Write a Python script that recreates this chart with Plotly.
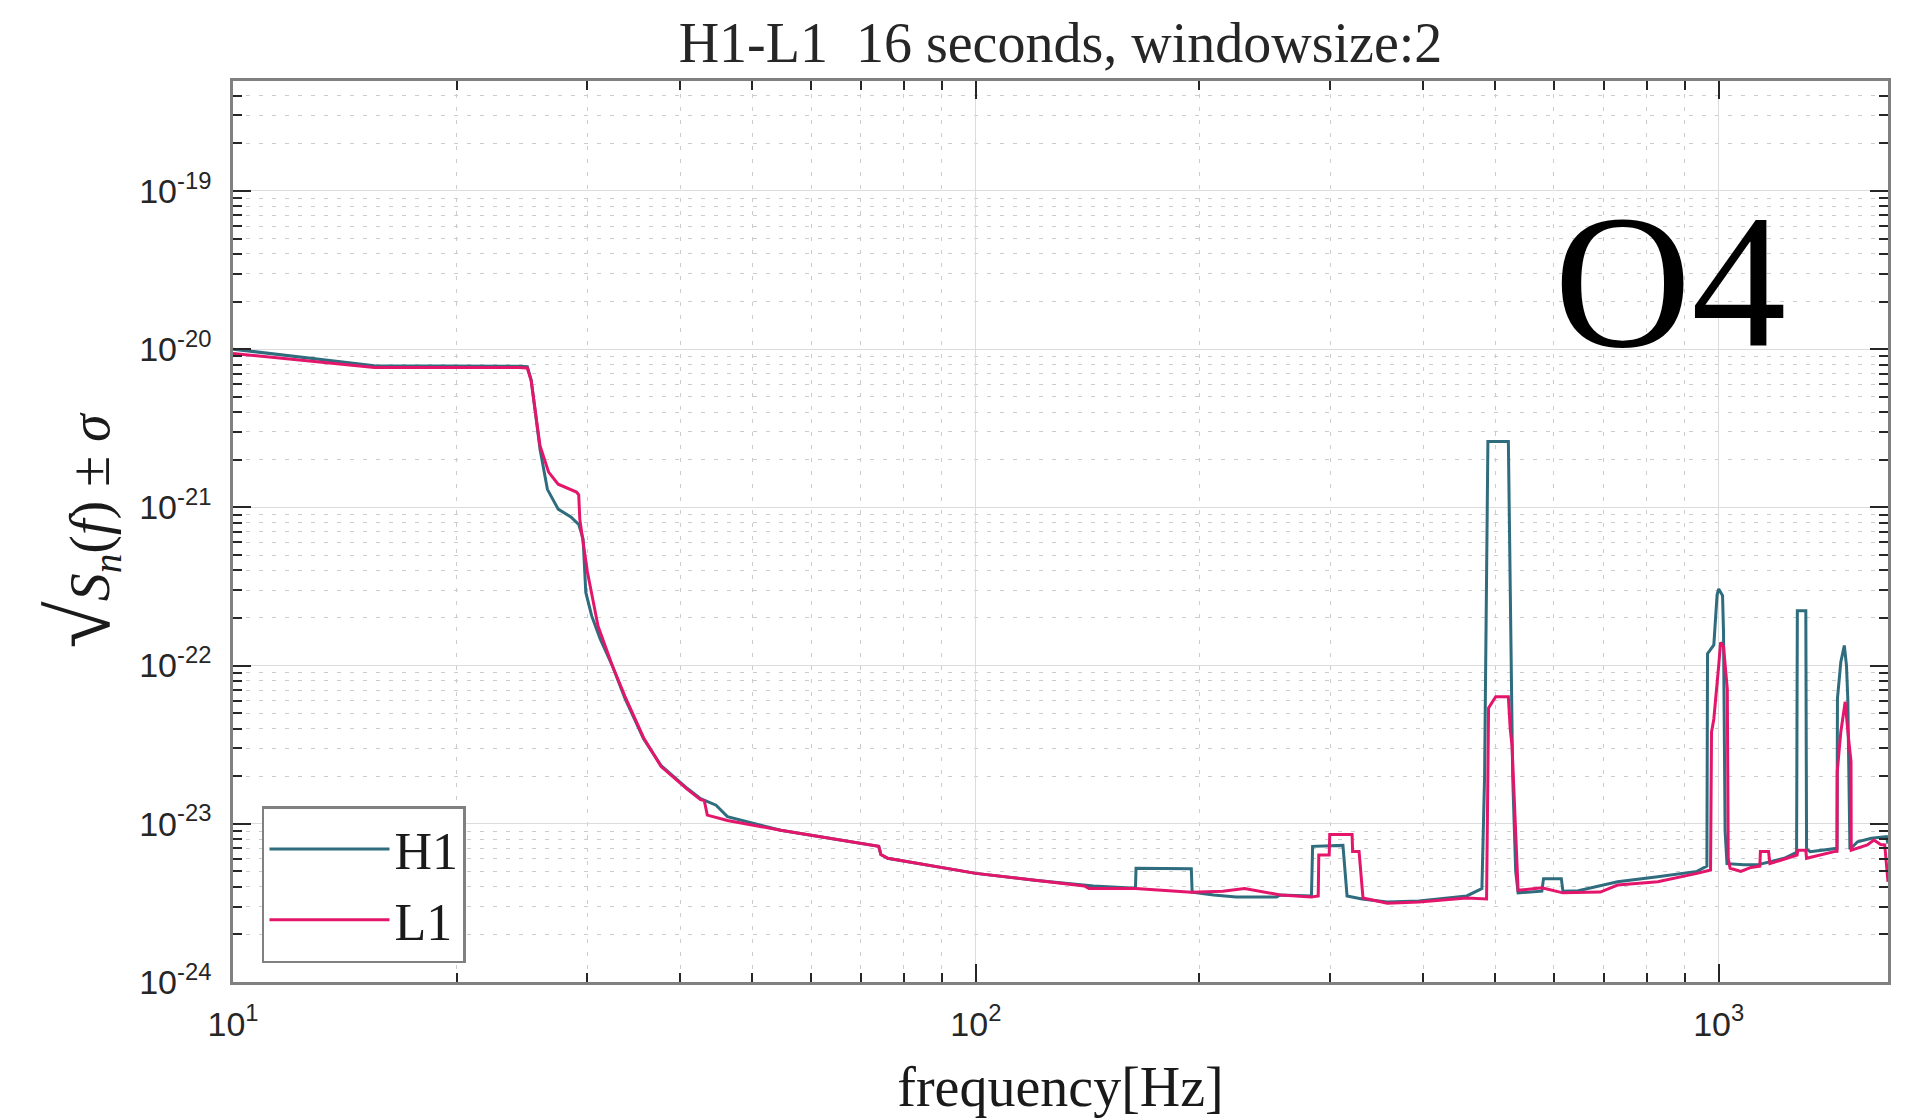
import plotly.graph_objects as go

# ---------------- data ----------------
h1_freq = [10, 15.5, 24.2, 24.9, 25.2, 25.4, 25.9, 26.5, 27.4, 28.5, 29.2, 29.6, 29.85,
           30.4, 31.2, 32.4, 33.7, 35.7, 37.7, 40.9, 42.6, 44.7, 46.3, 54.6, 74, 74.5,
           76.1, 100, 120, 144, 164, 164.3, 195, 195.5, 209, 224, 254, 257, 283, 284,
           312, 316, 331, 358, 395, 458, 470, 480, 484, 487, 489, 521, 524, 528, 533,
           537, 578, 581, 614, 617, 647, 731, 828, 935, 964, 966, 985, 995, 1000, 1012,
           1015, 1017, 1020, 1026, 1082, 1127, 1225, 1273, 1276, 1310, 1313, 1328, 1430,
           1443, 1445, 1460, 1476, 1486, 1492, 1502, 1538, 1605, 1682, 1690]
h1_asd = [1.0e-20, 7.85e-21, 7.8e-21, 7.75e-21, 6.4e-21, 4.8e-21, 2.33e-21, 1.3e-21,
          9.75e-22, 8.7e-22, 7.8e-22, 6.3e-22, 2.9e-22, 2.06e-22, 1.48e-22, 1.0e-22,
          6.2e-23, 3.45e-23, 2.33e-23, 1.67e-23, 1.44e-23, 1.31e-23, 1.11e-23, 9.1e-24,
          7.2e-24, 6.4e-24, 6.05e-24, 4.86e-24, 4.4e-24, 4.05e-24, 3.92e-24, 5.24e-24,
          5.2e-24, 3.7e-24, 3.55e-24, 3.45e-24, 3.45e-24, 3.55e-24, 3.5e-24, 7.2e-24,
          7.3e-24, 3.5e-24, 3.35e-24, 3.2e-24, 3.25e-24, 3.5e-24, 3.73e-24, 3.9e-24,
          2.0e-23, 3.0e-22, 2.61e-21, 2.61e-21, 3.0e-22, 2.0e-23, 5.0e-24, 3.66e-24,
          3.75e-24, 4.5e-24, 4.5e-24, 3.75e-24, 3.78e-24, 4.3e-24, 4.63e-24, 5.0e-24,
          5.4e-24, 1.19e-22, 1.35e-22, 2.8e-22, 3.05e-22, 2.77e-22, 1.63e-22, 3.8e-23,
          9.0e-24, 5.6e-24, 5.5e-24, 5.5e-24, 6.05e-24, 6.6e-24, 2.22e-22, 2.22e-22,
          6.9e-24, 6.67e-24, 7.0e-24, 7.0e-24, 6.2e-23, 1.05e-22, 1.34e-22, 1.0e-22,
          6.2e-23, 6.9e-24, 7.7e-24, 8.1e-24, 8.3e-24, 7.5e-24]

l1_freq = [10, 15.5, 24.2, 24.9, 25.2, 25.4, 25.9, 26.6, 27.4, 29, 29.2, 29.3, 30, 31,
           32.4, 33.7, 35.7, 37.7, 40.9, 42.6, 43.1, 43.5, 46.3, 54.6, 74, 74.5, 76.1,
           100, 120, 140, 142, 164, 195, 215, 230, 257, 283, 289, 289.5, 299, 299.5,
           321, 321.5, 328, 332, 358, 395, 458, 487, 490, 501, 521, 524, 527, 537, 578,
           617, 693, 731, 828, 935, 975, 978, 985, 1000, 1006, 1015, 1027, 1030, 1036,
           1071, 1105, 1136, 1138, 1167, 1172, 1275, 1278, 1310, 1313, 1430, 1443, 1444,
           1460, 1480, 1484, 1495, 1507, 1508, 1585, 1618, 1652, 1673, 1690]
l1_asd = [9.4e-21, 7.65e-21, 7.65e-21, 7.6e-21, 6.3e-21, 4.8e-21, 2.45e-21, 1.67e-21,
          1.4e-21, 1.25e-21, 1.2e-21, 8.4e-22, 3.9e-22, 1.78e-22, 1.0e-22, 6.4e-23,
          3.5e-23, 2.3e-23, 1.65e-23, 1.42e-23, 1.4e-23, 1.135e-23, 1.05e-23, 9.1e-24,
          7.2e-24, 6.4e-24, 6.05e-24, 4.86e-24, 4.4e-24, 4.05e-24, 3.9e-24, 3.9e-24,
          3.69e-24, 3.75e-24, 3.9e-24, 3.55e-24, 3.45e-24, 3.5e-24, 6.35e-24, 6.35e-24,
          8.57e-24, 8.57e-24, 6.67e-24, 6.67e-24, 3.4e-24, 3.15e-24, 3.2e-24, 3.4e-24,
          3.35e-24, 5.4e-23, 6.35e-23, 6.35e-23, 4.0e-23, 3.1e-23, 3.8e-24, 3.94e-24,
          3.66e-24, 3.7e-24, 4.1e-24, 4.3e-24, 4.86e-24, 5.1e-24, 3.8e-23, 4.6e-23,
          1.0e-22, 1.4e-22, 1.32e-22, 7.1e-23, 6.0e-24, 5.24e-24, 5.0e-24, 5.3e-24,
          5.4e-24, 6.67e-24, 6.67e-24, 5.6e-24, 6.35e-24, 6.8e-24, 6.8e-24, 6.05e-24,
          6.67e-24, 6.7e-24, 2.14e-23, 3.8e-23, 5.9e-23, 5.0e-23, 3.5e-23, 2.47e-23,
          6.8e-24, 7.35e-24, 7.9e-24, 7.4e-24, 7.35e-24, 4.3e-24]

series_names = ["H1", "L1"]
x_tick_vals = [10, 100, 1000]
x_tick_text = ["10<sup>1</sup>", "10<sup>2</sup>", "10<sup>3</sup>"]
y_tick_vals = [1e-24, 1e-23, 1e-22, 1e-21, 1e-20, 1e-19]
y_tick_text = ["10<sup>-24</sup>", "10<sup>-23</sup>", "10<sup>-22</sup>",
               "10<sup>-21</sup>", "10<sup>-20</sup>", "10<sup>-19</sup>"]
title_text = "H1-L1  16 seconds, windowsize:2"
x_title = "frequency[Hz]"
y_title = ("<span style='font-size:86px'>√</span><i>S<sub>n</sub></i>(<i>f</i>)"
           " ± <i>σ</i>")
run_label = "O4"

# ---------------- style ----------------
H1_COLOR = "#2e6c7e"
L1_COLOR = "#e3166b"
SERIF = "Liberation Serif, Times New Roman, serif"
SANS = "Liberation Sans, Arial, Helvetica, sans-serif"
AX_COLOR = "#808080"

x_minor = [m * 10 ** e for e in range(1, 4) for m in range(2, 10)]
y_minor = [m * 10.0 ** e for e in range(-24, -18) for m in range(2, 10)]

fig = go.Figure()
fig.add_trace(go.Scatter(x=h1_freq, y=h1_asd, mode="lines", name=series_names[0],
                         line=dict(color=H1_COLOR, width=3)))
fig.add_trace(go.Scatter(x=l1_freq, y=l1_asd, mode="lines", name=series_names[1],
                         line=dict(color=L1_COLOR, width=3)))

axis_common = dict(
    showline=True, linecolor=AX_COLOR, linewidth=2.5, mirror="ticks",
    ticks="inside", ticklen=18, tickwidth=1.5, tickcolor="#262626",
    showgrid=True, gridcolor="#dcdcdc", gridwidth=1.2,
    zeroline=False,
    tickfont=dict(family=SANS, size=34, color="#262626"),
)

fig.update_xaxes(
    type="log", range=[1, 3.2279],
    tickmode="array", tickvals=x_tick_vals, ticktext=x_tick_text,
    minor=dict(tickmode="array", tickvals=x_minor, ticks="inside", ticklen=9,
               tickcolor="#262626", showgrid=True, gridcolor="#cccccc",
               griddash="4px,9px", gridwidth=1.2),
    ticklabelstandoff=10,
    title=dict(text=x_title, font=dict(family=SERIF, size=56, color="#1a1a1a"),
               standoff=26),
    **axis_common,
)
fig.update_yaxes(
    type="log", range=[-24, -18.305],
    tickmode="array", tickvals=y_tick_vals, ticktext=y_tick_text,
    minor=dict(tickmode="array", tickvals=y_minor, ticks="inside", ticklen=9,
               tickcolor="#262626", showgrid=True, gridcolor="#cccccc",
               griddash="4px,9px", gridwidth=1.2),
    ticklabelstandoff=12,
    title=dict(text=y_title, font=dict(family=SERIF, size=56, color="#1a1a1a"),
               standoff=12),
    **axis_common,
)

fig.update_layout(
    width=1922, height=1120,
    margin=dict(l=233, r=34, t=81, b=136),
    paper_bgcolor="white", plot_bgcolor="white",
    title=dict(text=title_text, font=dict(family=SERIF, size=56, color="#262626"),
               x=0.5, xref="paper", xanchor="center",
               y=1 - 42 / 1120, yref="container", yanchor="middle"),
    legend=dict(x=0.0175, y=0.195, xanchor="left", yanchor="top",
                bgcolor="white", bordercolor=AX_COLOR, borderwidth=2.5,
                font=dict(family=SERIF, size=52, color="#1a1a1a"),
                itemwidth=120, tracegroupgap=0),
    showlegend=True,
    annotations=[dict(text=run_label, xref="paper", yref="paper", x=0.868, y=0.777,
                      xanchor="center", yanchor="middle", showarrow=False,
                      font=dict(family=SERIF, size=190, color="black"))],
)

fig.write_html("out.html", config={"displayModeBar": False},
               post_script="document.body.style.margin='0';")
